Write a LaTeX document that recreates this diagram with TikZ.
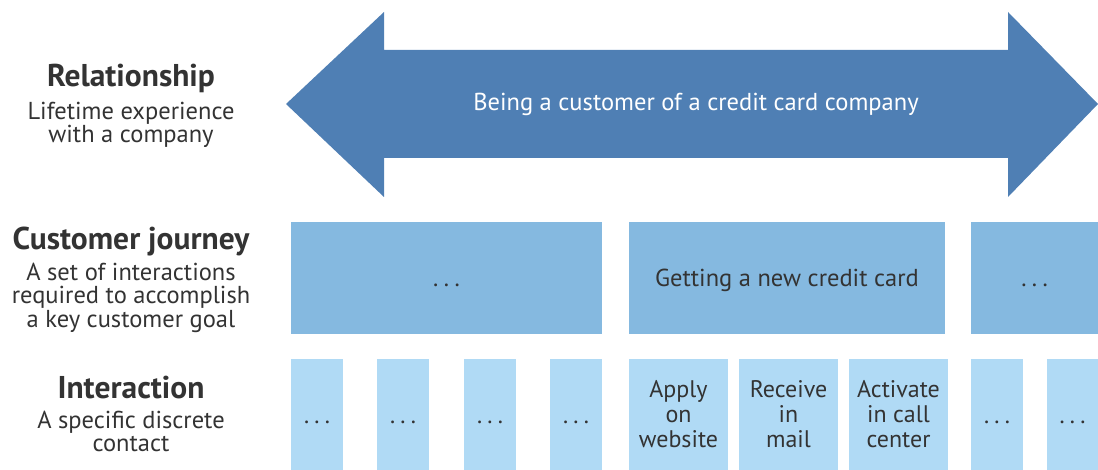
\documentclass[tikz,border=0pt]{standalone}
\usepackage{fontspec}
\setmainfont{PT Sans}
\usepackage{tikz}

\definecolor{arrowblue}{HTML}{4F7FB4}
\definecolor{journeyblue}{HTML}{85B9E0}
\definecolor{interblue}{HTML}{B0DAF5}
\definecolor{ink}{HTML}{333333}

\newcommand{\etc}{.\kern.22em.\kern.22em.}

\tikzset{
	jbox/.style={fill=journeyblue, inner sep=0pt, minimum height=112pt, text=ink, font=\fontsize{24.5}{25}\selectfont, text height=17pt, text depth=0pt},
	ibox/.style={fill=interblue, inner sep=0pt, minimum height=111pt, text=ink, font=\fontsize{24}{25}\selectfont, align=center},
	ietc/.style={ibox, text height=17pt, text depth=0pt},
	head/.style={text=ink, inner sep=0pt, anchor=base, font=\bfseries\fontsize{31.5}{32}\selectfont},
	desc/.style={text=ink, inner sep=0pt, anchor=north, align=center, font=\fontsize{24.5}{23.3}\selectfont}
}

\begin{document}
\begin{tikzpicture}[x=1pt, y=-1pt]
	
	\useasboundingbox (0,0) rectangle (1098,470);
	
	% double arrow
	\fill[arrowblue] (286,104) -- (384,12) -- (384,50) -- (1008,50) -- (1008,12) -- (1098,104)
		-- (1008,197) -- (1008,158) -- (384,158) -- (384,197) -- cycle;
	
	\node (r) at (696,104) [text=white, font=\fontsize{24.5}{25}\selectfont] {Being a customer of a credit card company};
	
	% labels
	\node (h1) at (131,87) [head] {Relationship};
	
	\node (d1) at (131,102) [desc] {Lifetime experience\\with a company};
	
	\node (h2) at (131,250) [head] {Customer journey};
	
	\node (d2) at (131,263) [desc] {A set of interactions\\required to accomplish\\a key customer goal};
	
	\node (h3) at (131,398) [head] {Interaction};
	
	\node (d3) at (131,411) [desc] {A specific discrete\\contact};
	
	% journeys
	\node (j1) at (446.5,278) [jbox, minimum width=311pt] {\etc};
	
	\node (j2) at (787,278) [jbox, minimum width=316pt] {Getting a new credit card};
	
	\node (j3) at (1034.5,278) [jbox, minimum width=127pt] {\etc};
	
	% interactions
	\node (i1) at (317,414.5) [ietc, minimum width=52pt] {\etc};
	
	\node (i2) at (403,414.5) [ietc, minimum width=52pt] {\etc};
	
	\node (i3) at (490,414.5) [ietc, minimum width=52pt] {\etc};
	
	\node (i4) at (576,414.5) [ietc, minimum width=52pt] {\etc};
	
	\node (i5) at (678.5,414.5) [ibox, minimum width=99pt] {Apply\\on\\website};
	
	\node (i6) at (788.5,414.5) [ibox, minimum width=99pt] {Receive\\in\\mail};
	
	\node (i7) at (898.5,414.5) [ibox, minimum width=99pt] {Activate\\in call\\center};
	
	\node (i8) at (997,414.5) [ietc, minimum width=52pt] {\etc};
	
	\node (i9) at (1072.5,414.5) [ietc, minimum width=51pt] {\etc};
	
\end{tikzpicture}
\end{document}
